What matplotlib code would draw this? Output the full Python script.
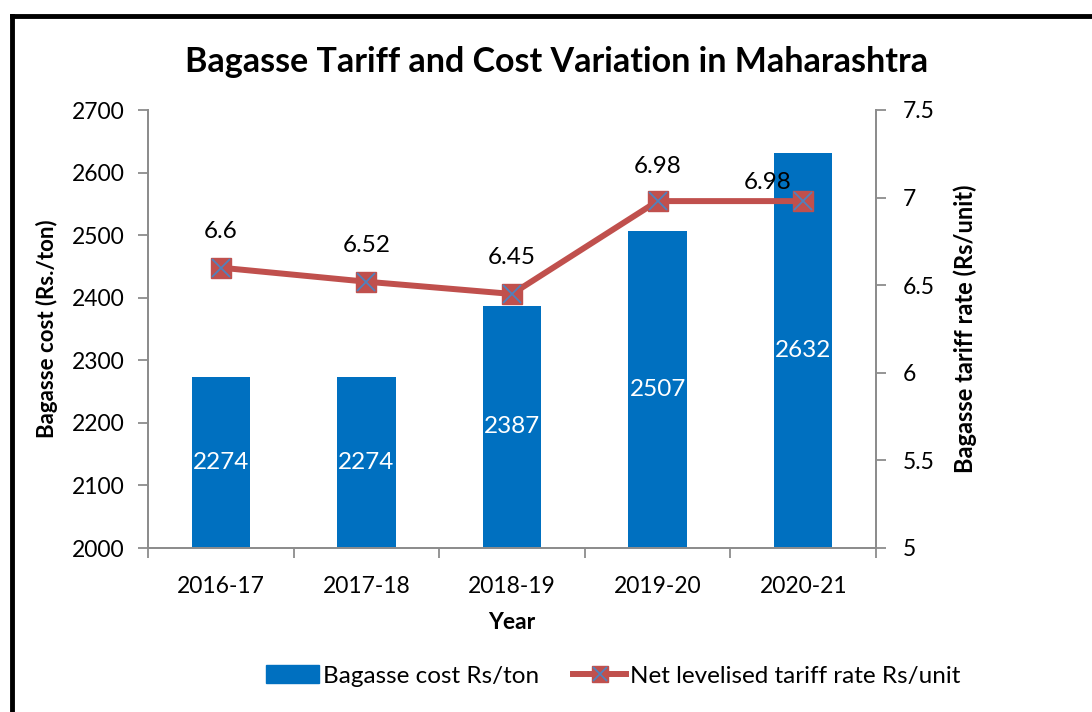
import matplotlib
matplotlib.use("Agg")
import matplotlib.pyplot as plt
from matplotlib.lines import Line2D
from matplotlib.patches import Rectangle
from matplotlib.transforms import ScaledTranslation
import numpy as np

plt.rcParams['font.family'] = ['Lato', 'DejaVu Sans']

years = ["2016-17", "2017-18", "2018-19", "2019-20", "2020-21"]
bagasse_cost = [2274, 2274, 2387, 2507, 2632]
tariff_rate = [6.6, 6.52, 6.45, 6.98, 6.98]
tariff_labels = ["6.6", "6.52", "6.45", "6.98", "6.98"]

bar_color = "#0070C0"
line_color = "#C0504D"
marker_x_color = "#4F81BD"
spine_color = "#8C8C8C"

fig = plt.figure(figsize=(10.92, 7.12), dpi=100)
ax = fig.add_axes([148/1092, 1-548/712, (876-148)/1092, (548-110)/712])
ax2 = ax.twinx()

x = np.arange(len(years))
ax.bar(x, bagasse_cost, width=0.4, color=bar_color, zorder=2)
for xi, v in zip(x, bagasse_cost):
    ax.text(xi, (2000 + v) / 2, str(v), color="white", ha="center", va="center", fontsize=17.5)

ax.set_xlim(-0.5, 4.5)
ax.set_ylim(2000, 2700)
ax.set_yticks(range(2000, 2701, 100))
ax.set_xticks(x)
ax.set_xticklabels(years)
ax.tick_params(axis="x", which="major", length=0, labelsize=16.5, pad=20)
ax.set_xticks(np.arange(-0.5, 5, 1), minor=True)
ax.tick_params(axis="x", which="minor", length=7, color=spine_color, width=1.3, direction="out")
ax.tick_params(axis="y", length=7, color=spine_color, width=1.3, labelsize=16.5, pad=10, direction="out")

ax2.plot(x, tariff_rate, color=line_color, linewidth=4.3, zorder=3)
ax2.plot(x, tariff_rate, linestyle="none", marker="s", markersize=14.5,
         markerfacecolor=line_color, markeredgecolor=line_color, zorder=4)
ax2.plot(x, tariff_rate, linestyle="none", marker="x", markersize=12.5,
         markeredgecolor=marker_x_color, markeredgewidth=1.3, zorder=5)
label_offsets = [(0, 36), (0, 36), (0, 36), (0, 35), (-36, 19)]
for xi, v, lab, (dx, dy) in zip(x, tariff_rate, tariff_labels, label_offsets):
    ax2.text(xi, v, lab, ha="center", va="center", fontsize=17.5,
             transform=ax2.transData + ScaledTranslation(dx/100, dy/100, fig.dpi_scale_trans))
ax2.set_ylim(5, 7.5)
ax2.set_yticks([5, 5.5, 6, 6.5, 7, 7.5])
ax2.set_yticklabels(["5", "5.5", "6", "6.5", "7", "7.5"])
ax2.tick_params(axis="y", length=7, color=spine_color, width=1.3, labelsize=16.5, pad=12, direction="out")

for a in (ax, ax2):
    for s in a.spines.values():
        s.set_color(spine_color)
        s.set_linewidth(1.3)
    a.spines["top"].set_visible(False)

ax.set_xlabel("Year", fontsize=16.5, fontweight="bold", labelpad=11)
ax.set_ylabel("Bagasse cost (Rs./ton)", fontsize=16, fontweight="bold", labelpad=10)
ax2.set_ylabel("Bagasse tariff rate (Rs/unit)", fontsize=17, fontweight="bold", labelpad=14)

fig.text(557/1092, 1-62/712, "Bagasse Tariff and Cost Variation in Maharashtra",
         ha="center", va="center", fontsize=24.5, fontweight="bold")

handles = [Rectangle((0, 0), 1, 1, color=bar_color),
           Line2D([0], [0], color=line_color, linewidth=4.3, marker="s", markersize=12,
                  markerfacecolor=line_color, markeredgecolor=line_color)]
handles2 = Line2D([0], [0], color="none", marker="x", markersize=10,
                  markeredgecolor=marker_x_color, markeredgewidth=1.3)
leg = fig.legend([handles[0], (handles[1], handles2)],
                 ["Bagasse cost Rs/ton", "Net levelised tariff rate Rs/unit"],
                 loc="center", bbox_to_anchor=(613/1092, 1-676/712), ncol=2, frameon=False,
                 fontsize=17.5, handlelength=2.2, handletextpad=0.15, columnspacing=1.4)

# chart border (top and left visible)
fig.add_artist(Line2D([12/1092, 1.0], [1-16/712, 1-16/712], color="black", linewidth=3.5,
                      transform=fig.transFigure))
fig.add_artist(Line2D([12/1092, 12/1092], [0, 1-16/712], color="black", linewidth=3.5,
                      transform=fig.transFigure))

fig.savefig("out.png", dpi=100)
